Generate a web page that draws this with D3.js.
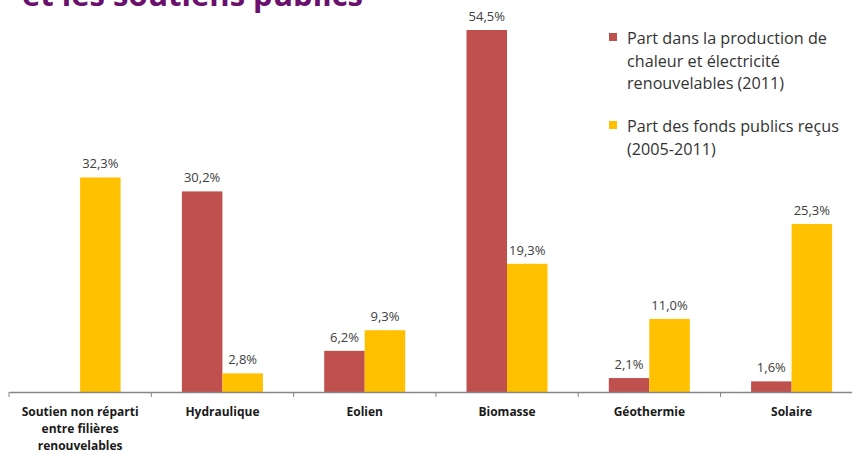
<!DOCTYPE html>
<html>
<head>
<meta charset="utf-8">
<script src="https://cdn.jsdelivr.net/npm/d3@7"></script>
<style>
  body { margin: 0; background: #fff; }
  text { font-family: "Open Sans", "DejaVu Sans", sans-serif; }
</style>
</head>
<body>
<svg id="chart" width="852" height="453"></svg>
<script>
// Part de chaque filière : production vs fonds publics
let categories = [
  ["Soutien non réparti", "entre filières", "renouvelables"],
  ["Hydraulique"],
  ["Eolien"],
  ["Biomasse"],
  ["Géothermie"],
  ["Solaire"]
];
let seriesNames = [
  ["Part dans la production de", "chaleur et électricité", "renouvelables (2011)"],
  ["Part des fonds publics reçus", "(2005-2011)"]
];
let production = [null, 30.2, 6.2, 54.5, 2.1, 1.6];
let fondsPublics = [32.3, 2.8, 9.3, 19.3, 11.0, 25.3];
let colors = ["#C0504D", "#FFC000"];

let svg = d3.select("#chart");
let baseY = 392;
let catWidth = 142.3;
let x0 = 9;
let keys = categories.map((c, i) => i);

let x = d3.scaleBand()
  .domain(keys)
  .range([x0, x0 + catWidth * keys.length]);
let xInner = d3.scaleBand()
  .domain([0, 1])
  .range([30.6, 111.6]);
let y = d3.scaleLinear()
  .domain([0, 54.5])
  .range([baseY, 30]);

// titre (coupé en haut, comme sur l'original)
svg.append("text")
  .attr("x", 22)
  .attr("y", 6)
  .attr("fill", "#6a0f6e")
  .attr("font-weight", "bold")
  .attr("font-size", 31)
  .text("et les soutiens publics");

let series = [production, fondsPublics];

let groups = svg.append("g")
  .selectAll("g")
  .data(keys)
  .join("g")
  .attr("transform", (d) => `translate(${x(d)},0)`);

series.forEach((vals, s) => {
  let g = groups.filter((d) => vals[d] != null);
  g.append("rect")
    .attr("x", xInner(s))
    .attr("width", xInner.bandwidth())
    .attr("y", (d) => y(vals[d]))
    .attr("height", (d) => baseY - y(vals[d]))
    .attr("fill", colors[s]);
  g.append("text")
    .attr("x", xInner(s) + xInner.bandwidth() / 2)
    .attr("y", (d) => y(vals[d]) - 9)
    .attr("text-anchor", "middle")
    .attr("font-size", 13)
    .attr("fill", "#404040")
    .text((d) => d3.format(".1f")(vals[d]).replace(".", ",") + "%");
});

// axe
let axis = svg.append("g")
  .attr("transform", `translate(0,${baseY})`)
  .call(d3.axisBottom(x).tickValues([]).tickSizeOuter(0));
axis.select(".domain").attr("stroke", "#868686").attr("stroke-width", 1.3);
axis.selectAll("line.sep")
  .data(d3.range(keys.length + 1))
  .join("line")
  .attr("class", "sep")
  .attr("x1", (d) => x0 + d * catWidth)
  .attr("x2", (d) => x0 + d * catWidth)
  .attr("y1", 0)
  .attr("y2", 5)
  .attr("stroke", "#868686");

svg.append("g")
  .selectAll("text")
  .data(keys)
  .join("text")
  .attr("x", (d) => x(d) + x.bandwidth() / 2)
  .attr("y", 416)
  .attr("text-anchor", "middle")
  .attr("font-size", 12)
  .attr("font-weight", "bold")
  .attr("fill", "#1a1a1a")
  .each(function (d) {
    d3.select(this)
      .selectAll("tspan")
      .data(categories[d])
      .join("tspan")
      .attr("x", x(d) + x.bandwidth() / 2)
      .attr("dy", (t, i) => (i ? 17 : 0))
      .text((t) => t);
  });

// légende
let legendTop = [33, 121];
let legend = svg.append("g")
  .selectAll("g")
  .data(seriesNames)
  .join("g")
  .attr("transform", (d, i) => `translate(609,${legendTop[i]})`);
legend.append("rect")
  .attr("width", 8)
  .attr("height", 8)
  .attr("fill", (d, i) => colors[i]);
legend.append("text")
  .attr("font-size", 16.2)
  .attr("fill", "#333")
  .each(function (d) {
    d3.select(this)
      .selectAll("tspan")
      .data(d)
      .join("tspan")
      .attr("x", 18)
      .attr("y", (t, i) => 11 + i * 22.5)
      .text((t) => t);
  });
</script>
</body>
</html>
